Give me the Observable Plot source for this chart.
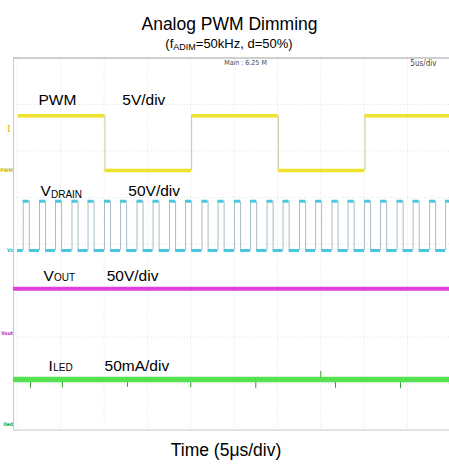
<!DOCTYPE html>
<html><head><meta charset="utf-8">
<script src="https://cdn.jsdelivr.net/npm/d3@7"></script>
<script src="https://cdn.jsdelivr.net/npm/@observablehq/plot@0.6"></script>
<style>
body{margin:0;background:#fff;font-family:"Liberation Sans",Arial,sans-serif;color:#000;}
#wrap{position:relative;width:449px;height:466px;overflow:hidden;}
#title{position:absolute;left:5px;width:449px;top:14px;text-align:center;font-size:17.5px;line-height:20px;}
#sub{position:absolute;left:4.5px;width:449px;top:35.5px;text-align:center;font-size:13px;line-height:16px;}
#sub span{font-size:9px;position:relative;top:2px;}
#chart{position:absolute;left:0;top:52px;}
#cap{position:absolute;left:1.5px;width:449px;top:440px;text-align:center;font-size:17.5px;line-height:20px;}
</style></head>
<body>
<div id="wrap">
  <div id="title">Analog PWM Dimming</div>
  <div id="sub">(f<span>ADIM</span>=50kHz, d=50%)</div>
  <div id="chart"></div>
  <div id="cap">Time (5μs/div)</div>
</div>
<script>
// ---- screen / axes ----
const tScreenUs = [-0.45, 49.85];          // time span of the scope screen (µs)
const divRange = [0, 8];                    // vertical divisions
const gridTimesUs = [0, 5, 10, 15, 20, 25, 30, 35, 40, 45];
const gridDivs = [1, 2, 3, 4, 5, 6, 7];

// ---- channels ----
const chNames = ["PWM", "VDRAIN", "VOUT", "ILED"];
const chMarkers = ["PWM", "Vz", "Vout", "Iled"];
const chGroundDiv = [5.58, 3.86, 2.075, 0.097];
const chPerDiv = [5, 50, 50, 50];          // V/div, V/div, V/div, mA/div
const chScaleText = ["5V/div", "50V/div", "50V/div", "50mA/div"];
const chLabelMain = ["PWM", "V", "V", "I"];
const chLabelSub = ["", "DRAIN", "OUT", "LED"];

// PWM (V)
const pwmEdgesUs = [0.1, 10.1, 20.1, 30.1, 40.1, 49.85];
const pwmLevelsV = [5.9, 0, 5.9, 0, 5.9];
const trigLevelV = 4.5;

// VDRAIN (V) switching pulses
const drainRiseUs = [0.67, 2.55, 4.40, 6.30, 8.15, 10.05, 11.90, 13.80, 15.65, 17.55, 19.40, 21.30, 23.15, 25.05, 26.90, 28.80, 30.65, 32.55, 34.40, 36.30, 38.15, 40.05, 41.90, 43.80, 45.65, 47.55, 49.40];
const drainFallUs = [1.37, 3.25, 5.10, 7.00, 8.85, 10.75, 12.60, 14.50, 16.35, 18.25, 20.10, 22.00, 23.85, 25.75, 27.60, 29.50, 31.35, 33.25, 35.10, 37.00, 38.85, 40.75, 42.60, 44.50, 46.35, 48.25, 49.85];
const drainHighV = 53, drainLowV = 0, drainStartUs = 0;

// VOUT (V)
const voutV = 48;

// ILED (mA)
const iledMA = 49.5;
const iledSpikeUs = [1.51, 5.2, 12.7, 20.0, 27.5, 35.0, 36.7, 44.2];
const iledSpikeMA = [40, 40.5, 41, 40.5, 39.5, 58, 40, 39.5];

// ---- helpers ----
const yOf = (ch, v) => chGroundDiv[ch] + v / chPerDiv[ch];

const pwmSegs = pwmLevelsV.map((v, i) => ({x1: pwmEdgesUs[i], x2: pwmEdgesUs[i + 1], y: yOf(0, v)}));
const pwmEdges = pwmEdgesUs.slice(1, -1).map(t => ({x: t, y1: yOf(0, 0), y2: yOf(0, 5.9)}));

const drainSegs = [];
const drainEdges = [];
let prev = drainStartUs;
drainRiseUs.forEach((r, i) => {
  const f = Math.min(drainFallUs[i], tScreenUs[1]);
  drainSegs.push({x1: prev, x2: r, y: yOf(1, drainLowV)});
  drainSegs.push({x1: r, x2: f, y: yOf(1, drainHighV)});
  drainEdges.push({x: r, y1: yOf(1, drainLowV), y2: yOf(1, drainHighV)});
  if (drainFallUs[i] < tScreenUs[1]) drainEdges.push({x: f, y1: yOf(1, drainLowV), y2: yOf(1, drainHighV)});
  prev = f;
});
if (prev < tScreenUs[1]) drainSegs.push({x1: prev, x2: tScreenUs[1], y: yOf(1, drainLowV)});

const spikes = iledSpikeUs.map((t, i) => ({x: t, y1: yOf(3, iledMA), y2: yOf(3, iledSpikeMA[i])}));

const labels = chNames.map((n, i) => ({i}));
const labelPosUs = [2.43, 2.66, 3.0, 3.6];
const labelDiv = [7.0, 5.04, 3.2, 1.26];
const scalePosUs = [12.1, 12.8, 10.3, 10.05];

const colors = ["#eee22a", "#48c8dc", "#e040e0", "#55e250"];
const markColors = ["#c8b800", "#28b0cc", "#b830b8", "#20a020"];
const fontBody = "Liberation Sans, Arial, sans-serif";
const fontNarrow = "Liberation Sans Narrow, DejaVu Sans Condensed, sans-serif";

const subMarks = [1, 2, 3].map(i => Plot.text([i], {
  x: d => labelPosUs[d], y: d => labelDiv[d], text: d => chLabelSub[d],
  textAnchor: "start", lineAnchor: "bottom", fontSize: 10, fill: "#000",
  dx: chLabelMain[i] === "V" ? 10.5 : 4.6, dy: chLabelSub[i] === "DRAIN" ? 2 : 0
}));

const plot = Plot.plot({
  width: 449, height: 384,
  marginLeft: 13, marginRight: 0, marginTop: 5.5, marginBottom: 6.5,
  x: {domain: tScreenUs, axis: null},
  y: {domain: divRange, axis: null},
  style: {background: "transparent", fontFamily: fontBody},
  marks: [
    Plot.ruleX(gridTimesUs, {stroke: "#e2e2e2", strokeDasharray: "1,2", strokeWidth: 1}),
    Plot.ruleY(gridDivs, {stroke: "#e2e2e2", strokeDasharray: "1,2", strokeWidth: 1}),
    Plot.ruleY([divRange[1]], {stroke: "#a0a0a0", strokeWidth: 1.2}),
    Plot.ruleY([divRange[0]], {stroke: "#c4c4c4", strokeWidth: 1}),
    Plot.ruleX([tScreenUs[0]], {stroke: "#c8c8c8", strokeWidth: 1}),
    // PWM
    Plot.ruleX(pwmEdges, {x: "x", y1: "y1", y2: "y2", stroke: "#c9c79a", strokeWidth: 1}),
    Plot.ruleY(pwmSegs, {x1: "x1", x2: "x2", y: "y", stroke: colors[0], strokeWidth: 3.5}),
    // VDRAIN
    Plot.ruleX(drainEdges, {x: "x", y1: "y1", y2: "y2", stroke: "#a9bcc4", strokeWidth: 1}),
    Plot.ruleY(drainSegs, {x1: "x1", x2: "x2", y: "y", stroke: colors[1], strokeWidth: 3}),
    // VOUT
    Plot.ruleY([yOf(2, voutV)], {x1: tScreenUs[0], x2: tScreenUs[1], stroke: colors[2], strokeWidth: 4}),
    // ILED
    Plot.ruleX(spikes, {x: "x", y1: "y1", y2: "y2", stroke: "#3a9a3a", strokeWidth: 1}),
    Plot.ruleY([yOf(3, iledMA)], {x1: tScreenUs[0], x2: tScreenUs[1], stroke: colors[3], strokeWidth: 5.5}),
    // channel labels
    Plot.text(labels, {x: d => labelPosUs[d.i], y: d => labelDiv[d.i], text: d => chLabelMain[d.i], textAnchor: "start", lineAnchor: "bottom", fontSize: 15.5, fill: "#000"}),
    ...subMarks,
    Plot.text(labels, {x: d => scalePosUs[d.i], y: d => labelDiv[d.i], text: d => chScaleText[d.i], textAnchor: "start", lineAnchor: "bottom", fontSize: 15.5, fill: "#000"}),
    // left channel markers
    Plot.text(labels, {x: tScreenUs[0], y: d => chGroundDiv[d.i], text: d => chMarkers[d.i], textAnchor: "end", lineAnchor: "bottom", dx: -0.5, dy: 1, fontSize: 5, fontWeight: "bold", fontFamily: fontNarrow, fill: d => markColors[d.i]}),
    Plot.text([trigLevelV], {x: tScreenUs[0], y: v => yOf(0, v), text: () => "I", textAnchor: "end", dx: -3, fontSize: 9, fontFamily: "DejaVu Serif, serif", fill: markColors[0]}),
    // scope header
    Plot.text(["Main : 6.25 M"], {frameAnchor: "top", dx: 14, dy: 2, lineAnchor: "top", fontSize: 7, fontFamily: fontNarrow, fill: "#444"}),
    Plot.text(["5us/div"], {frameAnchor: "top-right", textAnchor: "end", dx: -13, dy: 2, lineAnchor: "top", fontSize: 8, fontFamily: fontNarrow, fill: "#444"})
  ]
});
document.getElementById("chart").appendChild(plot);
</script>
</body></html>
